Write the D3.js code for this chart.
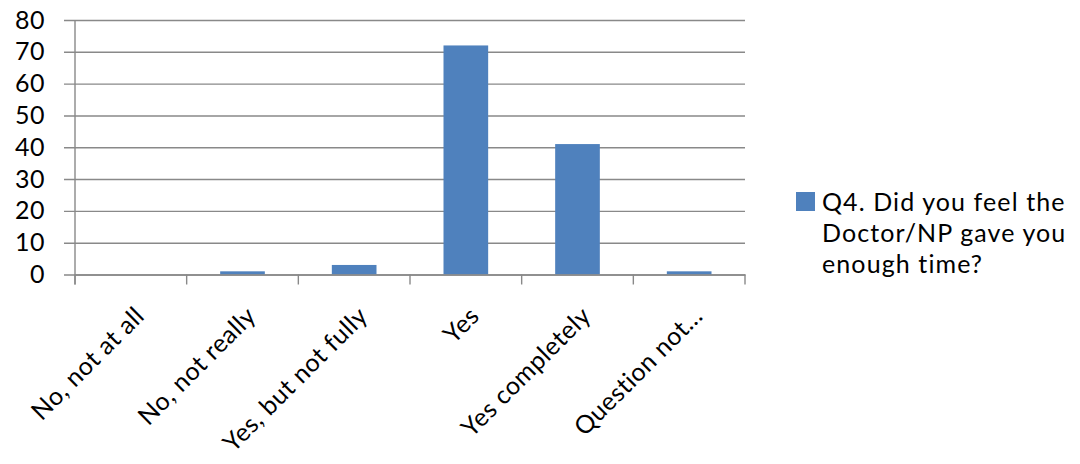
<!DOCTYPE html>
<html>
<head>
<meta charset="utf-8">
<script src="https://cdn.jsdelivr.net/npm/d3@7"></script>
<style>
  html, body { margin: 0; padding: 0; background: #fff; }
  svg { display: block; }
  text { font-family: Lato, "Open Sans", sans-serif; fill: #000; }
</style>
</head>
<body>
<svg id="chart" width="1080" height="464"></svg>
<script>
const categories = ["No, not at all", "No, not really", "Yes, but not fully", "Yes", "Yes completely", "Question not..."];
const values = [0, 1, 3, 72, 41, 1];
const yTicks = [0, 10, 20, 30, 40, 50, 60, 70, 80];
const seriesName = ["Q4. Did you feel the", "Doctor/NP gave you", "enough time?"];

const svg = d3.select("#chart");
const plot = { left: 75, right: 745, top: 20, bottom: 274.5 };
const axisColor = "#898989";

const x = d3.scaleBand().domain(categories).range([plot.left, plot.right]).paddingInner(0).paddingOuter(0);
const y = d3.scaleLinear().domain([0, 80]).range([plot.bottom, plot.top]);

// horizontal gridlines with short outer tick marks
const yAxis = d3.axisLeft(y).tickValues(yTicks).tickSize(-(plot.right - plot.left)).tickPadding(30);
const gy = svg.append("g").attr("transform", `translate(${plot.left},0)`).call(yAxis);
gy.select(".domain").remove();
gy.selectAll(".tick line").attr("x1", -11).attr("stroke", axisColor).attr("stroke-width", 1.4);
gy.selectAll(".tick text")
  .attr("font-size", 25)
  .attr("font-family", "Lato, sans-serif")
  .attr("letter-spacing", 0.5)
  .attr("fill", "#000");

// vertical axis line
svg.append("line")
  .attr("x1", plot.left).attr("x2", plot.left)
  .attr("y1", plot.top).attr("y2", plot.bottom + 10)
  .attr("stroke", axisColor).attr("stroke-width", 1.4);

// bars
const barW = x.bandwidth() / 2.5;
svg.append("g").selectAll("rect").data(values).join("rect")
  .attr("x", (d, i) => x(categories[i]) + (x.bandwidth() - barW) / 2)
  .attr("width", barW)
  .attr("y", d => y(d))
  .attr("height", d => y(0) - y(d))
  .attr("fill", "#4F81BD");

// category axis line and boundary ticks
const xAxis = d3.axisBottom(x).tickSize(0).tickFormat("");
const gx = svg.append("g").attr("transform", `translate(0,${plot.bottom})`).call(xAxis);
gx.select(".domain").attr("stroke", axisColor).attr("stroke-width", 1.4);
gx.selectAll(".tick").remove();
const bounds = categories.map(c => x(c)).concat([plot.right]);
svg.append("g").selectAll("line").data(bounds).join("line")
  .attr("x1", d => d).attr("x2", d => d)
  .attr("y1", plot.bottom).attr("y2", plot.bottom + 10)
  .attr("stroke", axisColor).attr("stroke-width", 1.4);

// rotated category labels
svg.append("g").selectAll("text").data(categories).join("text")
  .attr("transform", d => `translate(${x(d) + x.bandwidth() / 2 + 15},${plot.bottom + 43}) rotate(-45)`)
  .attr("text-anchor", "end")
  .attr("font-size", 25)
  .attr("letter-spacing", 0.5)
  .text(d => d);

// legend
const lg = svg.append("g").attr("transform", "translate(796,192)");
lg.append("rect").attr("width", 19).attr("height", 19).attr("fill", "#4F81BD");
lg.selectAll("text").data(seriesName).join("text")
  .attr("x", 26)
  .attr("y", (d, i) => 18.5 + i * 31)
  .attr("font-size", 25)
  .attr("letter-spacing", 1.1)
  .text(d => d);
</script>
</body>
</html>
